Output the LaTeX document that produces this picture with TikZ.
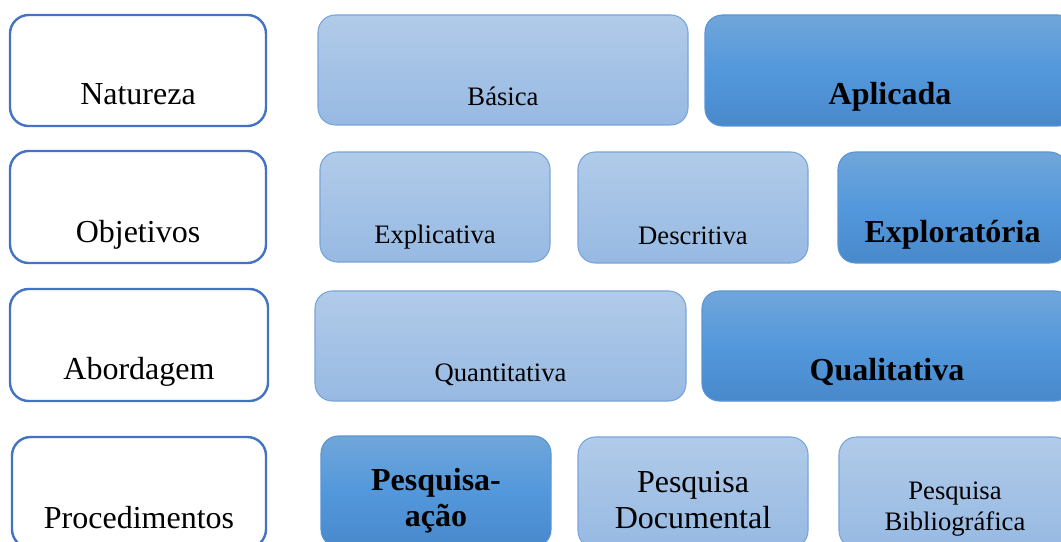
\documentclass[tikz,border=0pt]{standalone}
\usepackage{fontspec}
\setmainfont{Liberation Serif}
\usetikzlibrary{positioning,fit,calc}

\definecolor{catline}{HTML}{4472C4}
\definecolor{lighttop}{HTML}{B1CBE9}
\definecolor{lightbot}{HTML}{97B9E2}
\definecolor{lightline}{HTML}{78A5DA}
\definecolor{darktop}{HTML}{70A6DA}
\definecolor{darkmid}{HTML}{5398DC}
\definecolor{darkbot}{HTML}{4889CB}
\definecolor{darkline}{HTML}{5B95D5}

\tikzset{
   catbox/.style={draw=catline, line width=1.8pt, fill=white,
      rounded corners=14pt, inner sep=0pt},
   optbox/.style={draw=lightline, line width=0.8pt, rounded corners=13pt,
      top color=lighttop, bottom color=lightbot, inner sep=0pt},
   pickbox/.style={draw=darkline, line width=0.8pt, rounded corners=13pt,
      top color=darktop, bottom color=darkbot, middle color=darkmid,
      inner sep=0pt},
   cattext/.style={anchor=base, inner sep=0pt, font=\fontsize{24}{27}\selectfont},
   opttext/.style={anchor=base, inner sep=0pt, font=\fontsize{20}{23}\selectfont},
   picktext/.style={anchor=base, inner sep=0pt,
      font=\fontsize{24}{27}\selectfont\bfseries},
}

\begin{document}
\begin{tikzpicture}[x=0.75pt, y=-0.75pt]
   \useasboundingbox (0,0) rectangle (1061,542);
   \clip (0,0) rectangle (1061,542);

   % natureza
   \node[catbox, fit={(10,15) (266,126)}] (nat) {};
   \node[optbox, fit={(318,15) (688,125)}] (bas) {};
   \node[pickbox, fit={(705,15) (1075,126)}] (apl) {};
   \node[cattext] (natT) at (nat.south |- 0,105) {Natureza};
   \node[opttext] (basT) at (bas.south |- 0,106) {Básica};
   \node[picktext] (aplT) at (apl.south |- 0,105) {Aplicada};

   % objetivos
   \node[catbox, fit={(10,151) (266,263)}] (obj) {};
   \node[optbox, fit={(320,152) (550,262)}] (expl) {};
   \node[optbox, fit={(578,152) (808,263)}] (desc) {};
   \node[pickbox, fit={(838,152) (1067,263)}] (explo) {};
   \node[cattext] (objT) at (obj.south |- 0,242) {Objetivos};
   \node[opttext] (explT) at (expl.south |- 0,243) {Explicativa};
   \node[opttext] (descT) at (desc.south |- 0,244) {Descritiva};
   \node[picktext] (exploT) at (explo.south |- 0,242) {Exploratória};

   % abordagem
   \node[catbox, fit={(10,289) (268,401)}] (abo) {};
   \node[optbox, fit={(315,291) (686,401)}] (quan) {};
   \node[pickbox, fit={(702,291) (1072,401)}] (qual) {};
   \node[cattext] (aboT) at (abo.south |- 0,379) {Abordagem};
   \node[opttext] (quanT) at (quan.south |- 0,381) {Quantitativa};
   \node[picktext] (qualT) at (qual.south |- 0,380) {Qualitativa};

   % procedimentos
   \node[catbox, fit={(12,437) (266,548)}] (proc) {};
   \node[pickbox, fit={(321,436) (551,547)}] (pa) {};
   \node[optbox, fit={(578,437) (808,548)}] (doc) {};
   \node[optbox, fit={(839,437) (1071,548)}] (bib) {};
   \node[cattext] (procT) at (proc.south |- 0,528) {Procedimentos};
   \node[picktext] (paT1) at (pa.south |- 0,490) {Pesquisa-};
   \node[picktext] (paT2) at (pa.south |- 0,526) {ação};
   \node[cattext] (docT1) at (doc.south |- 0,492) {Pesquisa};
   \node[cattext] (docT2) at (doc.south |- 0,528) {Documental};
   \node[opttext] (bibT1) at (bib.south |- 0,499) {Pesquisa};
   \node[opttext] (bibT2) at (bib.south |- 0,530) {Bibliográfica};
\end{tikzpicture}
\end{document}
